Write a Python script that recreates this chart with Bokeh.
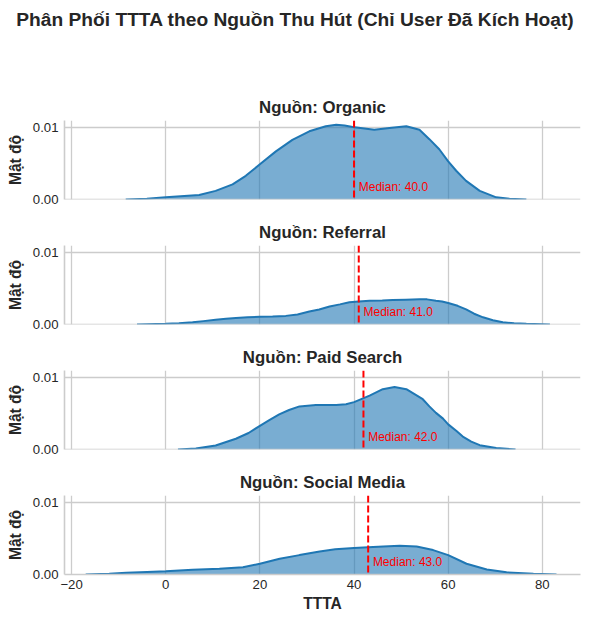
from bokeh.plotting import figure
from bokeh.layouts import column
from bokeh.models import Span, Label, Range1d, FixedTicker, NumeralTickFormatter, Div
from bokeh.embed import file_html
from bokeh.resources import INLINE

# ---------------- data ----------------
sources = ["Organic", "Referral", "Paid Search", "Social Media"]
medians = [40.0, 41.0, 42.0, 43.0]

organic_x = [-8.5, -4, 0, 7.1, 10.6, 14.2, 17, 20, 23.4, 26.9, 30.5, 34, 36.2, 38, 39.7, 44.3, 48,
             51.1, 53.9, 56, 58.1, 60, 61.7, 63.8, 66.7, 70.2, 73, 76.6]
organic_y = [0, 0.0001, 0.00032, 0.00064, 0.0012, 0.0021, 0.0033, 0.0049, 0.0067, 0.0083, 0.0095,
             0.0102, 0.0104, 0.0103, 0.0101, 0.0097, 0.0100, 0.0102, 0.0097, 0.0084, 0.0070, 0.0053,
             0.0040, 0.0026, 0.0012, 0.0003, 0.0001, 0]

referral_x = [-6.1, 0, 2.8, 5.7, 8, 10.6, 12.8, 14.9, 17.4, 20, 22.7, 25.5, 28, 30.5, 32.6, 34.8,
              37, 39, 41, 43.3, 46, 48.2, 51, 53.9, 55.5, 57.4, 58.7, 60, 62, 63.8, 65.5, 67.4,
              69.5, 71.6, 74, 76.6, 81.6]
referral_y = [0, 0.0001, 0.00019, 0.0003, 0.00047, 0.00065, 0.00079, 0.0009, 0.001, 0.00107,
              0.00112, 0.0012, 0.0014, 0.0018, 0.0021, 0.0025, 0.0028, 0.0031, 0.0032, 0.0033,
              0.00335, 0.0034, 0.00345, 0.0035, 0.0035, 0.0033, 0.0032, 0.0030, 0.0026, 0.0021,
              0.0015, 0.0010, 0.0006, 0.0003, 0.00018, 0.0001, 0]

paid_x = [2.6, 6.4, 10.6, 14.9, 17.6, 20, 22, 24.1, 26.2, 28.4, 31.9, 34, 36.2, 38.3, 40, 43.3,
          46.1, 48.6, 51.1, 54.6, 56, 57.4, 58.9, 60, 61.7, 63.1, 64.9, 66.7, 70.2, 74.3]
paid_y = [0, 0.00014, 0.00056, 0.0015, 0.0023, 0.0033, 0.0041, 0.0049, 0.0055, 0.0060, 0.0062,
          0.0062, 0.0062, 0.0063, 0.0066, 0.0075, 0.0084, 0.0087, 0.0084, 0.0070, 0.0060, 0.0051,
          0.0043, 0.0035, 0.0026, 0.0018, 0.0011, 0.0006, 0.0002, 0]

social_x = [-17, -12, -8.4, -4, 0, 5.7, 11.4, 16.4, 20, 24.2, 28.4, 32.7, 36, 40, 43, 46.2,
            49.7, 53.3, 56.8, 60, 63.9, 68.2, 72.4, 78.1, 83]
social_y = [0, 0.0001, 0.00023, 0.00035, 0.00046, 0.00065, 0.0008, 0.001, 0.0015, 0.0022,
            0.0027, 0.0032, 0.0035, 0.0037, 0.0038, 0.0039, 0.0040, 0.0039, 0.0034, 0.0027,
            0.0015, 0.0007, 0.0003, 0.0001, 0]

curves_x = [organic_x, referral_x, paid_x, social_x]
curves_y = [organic_y, referral_y, paid_y, social_y]

x_ticks = [-20, 0, 20, 40, 60, 80]
y_ticks = [0, 0.01]

main_title = "Phân Phối TTTA theo Nguồn Thu Hút (Chỉ User Đã Kích Hoạt)"
x_label = "TTTA"
y_label = "Mật độ"

# ---------------- styling ----------------
FONT = "Liberation Sans"
TXT = "#262626"
GRID = "#cccccc"
BLUE = "#1f77b4"

W = 582
TOP = 38
FRAME_H = 79
BOT = 8
BOT_LAST = 45
HEAD = 82

header = Div(text=('<div style="width:590px;text-align:center;font-family:\'Liberation Sans\';'
                   'font-size:19.2px;font-weight:bold;color:#262626;line-height:22px;'
                   'padding-top:9px;margin:0;">' + main_title + '</div>'),
             width=590, height=HEAD, margin=0)

figs = [header]
for i, src in enumerate(sources):
    last = i == len(sources) - 1
    bot = BOT_LAST if last else BOT
    h = TOP + FRAME_H + bot
    p = figure(width=W, height=h, output_backend="svg", toolbar_location=None,
               x_range=Range1d(-21.5, 88.1), y_range=Range1d(0, 0.011),
               min_border_left=64, min_border_right=2,
               min_border_top=TOP, min_border_bottom=bot)
    p.outline_line_color = None
    p.background_fill_color = "white"
    p.border_fill_color = "white"

    p.title.text = "Nguồn: " + src
    p.title.text_font = FONT
    p.title.text_font_size = "16.8px"
    p.title.text_font_style = "bold"
    p.title.text_color = TXT
    p.title.align = "center"
    p.title.standoff = 8

    p.xgrid.ticker = FixedTicker(ticks=x_ticks)
    p.ygrid.ticker = FixedTicker(ticks=y_ticks)
    for g in (p.xgrid, p.ygrid):
        g.grid_line_color = GRID
        g.grid_line_width = 1.3

    ya = p.yaxis[0]
    ya.ticker = FixedTicker(ticks=y_ticks)
    ya.formatter = NumeralTickFormatter(format="0.00")
    ya.axis_label = y_label
    ya.axis_label_text_font = FONT
    ya.axis_label_text_font_size = "15.6px"
    ya.axis_label_text_font_style = "bold"
    ya.axis_label_text_color = TXT
    ya.axis_label_standoff = 6
    ya.major_label_text_font = FONT
    ya.major_label_text_font_size = "13.2px"
    ya.major_label_text_color = TXT
    ya.major_label_standoff = 6
    ya.major_tick_out = 0
    ya.major_tick_in = 0
    ya.minor_tick_out = 0
    ya.minor_tick_in = 0
    ya.axis_line_color = GRID
    ya.axis_line_width = 1.6

    xa = p.xaxis[0]
    if last:
        xa.ticker = FixedTicker(ticks=x_ticks)
        xa.major_label_overrides = {t: (str(t).replace("-", "\u2212")) for t in x_ticks}
        xa.axis_label = x_label
        xa.axis_label_text_font = FONT
        xa.axis_label_text_font_size = "15.6px"
        xa.axis_label_text_font_style = "bold"
        xa.axis_label_text_color = TXT
        xa.axis_label_standoff = 3
        xa.major_label_text_font = FONT
        xa.major_label_text_font_size = "13.2px"
        xa.major_label_text_color = TXT
        xa.major_label_standoff = 5
        xa.major_tick_out = 0
        xa.major_tick_in = 0
        xa.minor_tick_out = 0
        xa.minor_tick_in = 0
        xa.axis_line_color = GRID
        xa.axis_line_width = 1.6
    else:
        xa.visible = False
        p.add_layout(Span(location=0, dimension="width", line_color=GRID, line_width=1.6))

    xs = curves_x[i]
    ys = curves_y[i]
    p.varea(x=xs, y1=[0] * len(xs), y2=ys, fill_color=BLUE, fill_alpha=0.6)
    p.line(xs, ys, line_color=BLUE, line_width=2)

    med = medians[i]
    p.add_layout(Span(location=med, dimension="height", line_color="red",
                      line_dash="7 3", line_width=2))
    p.add_layout(Label(x=med + 1, y=0.0017, text="Median: %.1f" % med,
                       text_color="red", text_font=FONT, text_font_size="12px",
                       text_baseline="middle", text_align="left"))
    figs.append(p)

layout = column(*figs, spacing=0)
open("out.html", "w").write(file_html(layout, INLINE))
